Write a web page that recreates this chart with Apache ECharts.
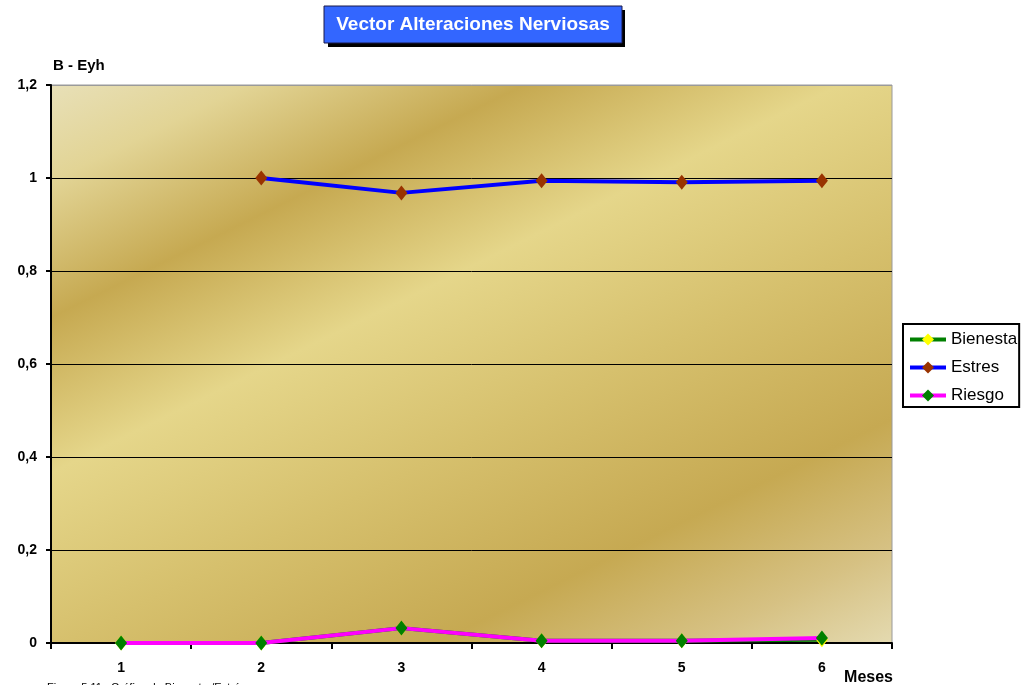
<!DOCTYPE html>
<html>
<head>
<meta charset="utf-8">
<title>Vector Alteraciones Nerviosas</title>
<script src="https://cdn.jsdelivr.net/npm/echarts@6/dist/echarts.min.js"></script>
<style>
  html, body { margin: 0; padding: 0; background: #ffffff; }
  #chart { width: 1026px; height: 685px; }
</style>
</head>
<body>
<div id="chart"></div>
<script>
// Months on the category axis
const months = ['1', '2', '3', '4', '5', '6'];

// Series values per month (null = no reading)
const bienestar = [0, 0, 0.032, 0.005, 0.005, 0.007];
const estres = [null, 1.0, 0.968, 0.994, 0.991, 0.994];
const riesgo = [0, 0, 0.032, 0.005, 0.005, 0.011];

// Value-axis tick labels (decimal comma)
const yTickLabels = ['0', '0,2', '0,4', '0,6', '0,8', '1', '1,2'];

const chartTitle = 'Vector Alteraciones Nerviosas';
const yAxisTitle = 'B - Eyh';
const xAxisTitle = 'Meses';
const caption = 'Figura 5.11:  Gráfica de Bienestar/Estrés';

const FONT = '"Liberation Sans", Arial, sans-serif';

const chart = echarts.init(document.getElementById('chart'), null, { renderer: 'canvas' });

// Diagonal gold banding of the plot area
const goldFill = new echarts.graphic.LinearGradient(0, 0, 0.457, 1.40, [
  { offset: 0.00, color: '#e8e0b8' },
  { offset: 0.10, color: '#e2d495' },
  { offset: 0.24, color: '#c6a951' },
  { offset: 0.40, color: '#e5d68a' },
  { offset: 0.58, color: '#d6c06d' },
  { offset: 0.77, color: '#c6a952' },
  { offset: 0.90, color: '#d6c183' },
  { offset: 1.00, color: '#e4dab0' }
]);

function diamondSeries(name, data, lineColor, markerColor, z) {
  return {
    name: name,
    type: 'line',
    data: data,
    z: z,
    symbol: 'diamond',
    symbolSize: [12, 15],
    showSymbol: true,
    connectNulls: false,
    lineStyle: { color: lineColor, width: 4 },
    itemStyle: { color: markerColor, borderWidth: 0 },
    emphasis: { disabled: true },
    animation: false
  };
}

const option = {
  animation: false,
  backgroundColor: '#ffffff',
  grid: {
    left: 51, top: 85, right: 134, bottom: 42,
    show: true,
    backgroundColor: goldFill,
    borderColor: '#9a9a9a',
    borderWidth: 1
  },
  legend: {
    orient: 'vertical',
    left: 903,
    top: 324,
    padding: [7, 2, 3, 5],
    itemWidth: 36,
    itemHeight: 15,
    itemGap: 11,
    backgroundColor: '#ffffff',
    borderColor: '#000000',
    borderWidth: 2,
    borderRadius: 0,
    lineStyle: { width: 4 },
    textStyle: {
      fontFamily: FONT, fontSize: 17, color: '#000000',
      width: 68, overflow: 'truncate', ellipsis: ''
    },
    data: ['Bienestar', 'Estres', 'Riesgo']
  },
  xAxis: {
    type: 'category',
    data: months,
    boundaryGap: true,
    axisLine: { show: true, lineStyle: { color: '#000000', width: 2 } },
    axisTick: { show: true, alignWithLabel: false, length: 6, lineStyle: { color: '#000000', width: 2 } },
    axisLabel: { fontFamily: FONT, fontWeight: 'bold', fontSize: 14, color: '#000000', margin: 18 },
    splitLine: { show: false }
  },
  yAxis: {
    type: 'value',
    min: 0, max: 1.2, interval: 0.2,
    name: yAxisTitle,
    nameLocation: 'end',
    nameGap: 12,
    nameTextStyle: { fontFamily: FONT, fontWeight: 'bold', fontSize: 15, color: '#000000', align: 'left', verticalAlign: 'bottom', padding: [0, 0, 0, 2] },
    axisLine: { show: true, lineStyle: { color: '#000000', width: 2 } },
    axisTick: { show: true, length: 5, lineStyle: { color: '#000000', width: 2 } },
    axisLabel: {
      fontFamily: FONT, fontWeight: 'bold', fontSize: 14, color: '#000000', margin: 14,
      formatter: function (v) { return yTickLabels[Math.round(v / 0.2)]; }
    },
    splitLine: {
      show: true,
      lineStyle: { color: ['#000000', '#000000', '#000000', '#000000', '#000000', '#000000', '#9a9a9a'], width: 1 }
    }
  },
  series: [
    diamondSeries('Bienestar', bienestar, '#008000', '#ffff00', 2),
    diamondSeries('Estres', estres, '#0000ff', '#993300', 3),
    diamondSeries('Riesgo', riesgo, '#ff00ff', '#008000', 4)
  ],
  graphic: [
    {
      type: 'rect', silent: true, z: 10,
      shape: { x: 328, y: 10, width: 297, height: 37 },
      style: { fill: '#000000' }
    },
    {
      type: 'rect', silent: true, z: 11,
      shape: { x: 324, y: 6, width: 298, height: 37 },
      style: { fill: '#3366ff', stroke: '#1a1a4a', lineWidth: 1 }
    },
    {
      type: 'text', silent: true, z: 12,
      x: 473, y: 25,
      style: {
        text: chartTitle, fill: '#ffffff',
        font: 'bold 19px ' + FONT,
        align: 'center', verticalAlign: 'middle'
      }
    },
    {
      type: 'text', silent: true, z: 12,
      x: 893, y: 670,
      style: {
        text: xAxisTitle, fill: '#000000',
        font: 'bold 16px ' + FONT,
        align: 'right', verticalAlign: 'top'
      }
    },
    {
      type: 'text', silent: true, z: 12,
      x: 47, y: 682,
      style: {
        text: caption, fill: '#000000',
        font: '11px ' + FONT,
        align: 'left', verticalAlign: 'top'
      }
    }
  ]
};

chart.setOption(option);
</script>
</body>
</html>
